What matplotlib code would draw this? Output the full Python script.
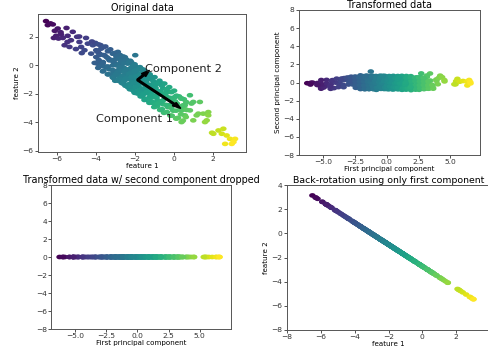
import numpy as np
import matplotlib
matplotlib.use('Agg')
import matplotlib.pyplot as plt
from matplotlib.path import Path

feature1 = [
    -6.55, -6.32, -6.20, -6.46, -5.95, -6.03, -6.15, -5.91, -5.69, -5.78,
    -5.44, -5.18, -4.96, -5.27, -5.60, -5.35, -4.84, -4.75, -4.41, -4.58,
    -4.15, -3.98, -4.24, -3.73, -3.81, -3.55, -3.98, -3.38, -3.13, -2.87,
    -2.70, -2.96, -3.30, -3.64, -3.90, -3.47, -3.13, -2.78, -2.44, -1.98,
    -2.19, -2.53, -2.87, -3.13, -2.27, -1.93, -2.36, -2.78, -1.85, -2.02,
    -2.09, -2.12, -1.83, -2.00, -1.57, -1.74, -1.32, -1.06, -0.63, -0.55,
    -0.89, -1.23, -0.21, 0.05, 0.39, 0.82, 1.33, 0.90, 0.56, 1.76,
    1.25, -0.21, -0.55,
    -0.37, -0.03, 0.99, 0.48, 0.82, 1.16, 0.99, 1.50, 1.76, 1.68,
    0.56, 0.39, 2.02, 2.28, 2.53, 2.45, 2.70, 2.87, 3.13, 2.62,
    2.96, 1.95, 1.59, 3.05,
    -4.02, -4.06, -3.93, -3.76, -3.69,
    -3.82, -3.64, -3.51, -3.44, -3.56, -3.39, -3.26, -3.19, -3.31, -3.14,
    -3.02, -3.06, -2.94, -3.01, -2.76, -2.69, -2.81, -2.68, -2.51, -2.56,
    -2.46, -2.49, -2.24, -2.31, -2.21, -2.26, -2.01, -2.06, -1.96, -2.01,
    -1.74, -1.69, -1.81, -1.71, -1.49, -1.44, -1.56, -1.51, -1.24, -1.19,
    -1.31, -1.26, -0.99, -0.94, -1.06, -1.01, -0.74, -0.69, -0.81, -0.71,
    -0.49, -0.44, -0.56, -0.51, -0.24, -0.19, -0.31, -0.18, 0.01, 0.06,
    -0.04, 0.11, 0.26, 0.31, 0.21, 0.51, 0.56, 0.46,
    -5.02, -4.72, -5.45, -5.80, -6.10, -4.85, -5.50, -4.50, -4.20,
    -3.87, -3.90, -3.85, -3.88,
    -3.62, -3.60, -3.64, -3.61, -3.37, -3.35, -3.39, -3.36,
    -3.12, -3.10, -3.14, -3.11, -2.87, -2.85, -2.89, -2.86,
    -2.62, -2.60, -2.64, -2.61, -2.37, -2.35, -2.39, -2.36,
    -2.12, -2.10, -2.14, -2.11, -1.87, -1.85, -1.89, -1.86,
    -1.62, -1.60, -1.64, -1.61, -1.37, -1.35, -1.39, -1.36,
    -1.12, -1.10, -1.14, -1.11, -0.87, -0.85, -0.89, -0.86,
    -0.62, -0.60, -0.64, -0.61, -0.37, -0.35, -0.39, -0.36,
    -0.12, -0.10, -0.14, -0.11, 0.13, 0.15, 0.11, 0.14,
    0.38, 0.40, 0.36, 0.39, 0.63, 0.65, 0.61,
    -2.95, -2.93, -2.97, -2.80, -2.78, -2.82, -2.72, -2.70, -2.68,
    -2.55, -2.53, -2.57, -2.45, -2.43, -2.47, -2.30, -2.28, -2.32,
    -2.20, -2.18, -2.22, -2.05, -2.03, -2.07, -2.04, -1.95, -1.93, -1.97,
    -1.80, -1.78, -1.82, -1.70, -1.68, -1.72, -1.55, -1.53, -1.57,
    -1.45, -1.43, -1.47, -1.30, -1.28, -1.32, -1.20, -1.18, -1.22,
    -1.05, -1.03, -1.07, -0.95, -0.93, -0.97, -0.80, -0.78, -0.82,
    -2.60, -1.60,
]
feature2 = [
    3.08, 2.92, 2.85, 2.80, 2.56, 2.05, 1.90, 1.86, 1.90, 2.14,
    2.05, 2.33, 1.98, 1.74, 1.39, 1.27, 1.62, 1.27, 1.50, 1.04,
    1.39, 1.04, 0.80, 1.15, 0.80, 0.68, 0.56, 0.97, 0.80, 0.92,
    0.56, 0.44, 0.33, 0.21, 0.09, -0.14, -0.02, 0.09, 0.21, 0.69,
    0.21, -0.26, -0.37, -0.61, -0.49, -0.14, -0.85, -0.97, -0.61, -0.97,
    0.00, -0.47, -0.82, -1.18, -1.29, -1.76, -1.76, -1.53, -1.29, -1.64,
    -2.12, -2.24, -1.88, -2.24, -2.35, -2.12, -2.59, -2.70, -2.82, -3.30,
    -3.41, -2.82, -2.47,
    -1.88, -2.35, -2.59, -2.82, -3.18, -3.53, -3.88, -3.41, -3.53, -3.88,
    -3.53, -3.18, -4.82, -4.59, -4.47, -4.82, -4.94, -5.18, -5.18, -5.53,
    -5.53, -4.75, -4.00, -5.40,
    1.55, 0.15, 0.95, 1.40, -0.05,
    0.70, -0.45, 1.30, 0.55, -0.10, -0.65, 1.10, 0.35, -0.30, -0.85,
    0.85, 0.15, -0.45, -1.10, 0.70, -0.05, -0.70, -1.25, 0.55, -0.20,
    -0.75, -1.45, 0.30, -0.45, -1.00, -1.70, 0.05, -0.65, -1.25, -1.95,
    -0.15, -0.90, -1.50, -2.20, -0.40, -1.15, -1.75, -2.45, -0.65, -1.40,
    -2.00, -2.65, -0.85, -1.60, -2.25, -2.95, -1.10, -1.85, -2.50, -3.15,
    -1.30, -2.05, -2.75, -3.35, -1.55, -2.30, -2.95, -3.55, -1.80, -2.55,
    -3.20, -3.75, -2.20, -2.95, -3.70, -2.40, -3.10, -3.90,
    1.12, 0.84, 1.62, 2.30, 2.40, 2.00, 2.60, 1.90, 1.65,
    1.45, 0.95, 0.35, -0.20,
    1.25, 0.70, 0.15, -0.40, 1.00, 0.45, -0.10, -0.65,
    0.80, 0.25, -0.35, -0.90, 0.55, 0.00, -0.50, -1.10,
    0.35, -0.20, -0.75, -1.30, 0.10, -0.45, -1.00, -1.55,
    -0.10, -0.65, -1.20, -1.75, -0.35, -0.90, -1.40, -2.00,
    -0.55, -1.10, -1.65, -2.20, -0.80, -1.35, -1.90, -2.45,
    -1.00, -1.55, -2.10, -2.65, -1.25, -1.80, -2.30, -2.90,
    -1.45, -2.00, -2.55, -3.10, -1.70, -2.25, -2.80, -3.30,
    -1.90, -2.45, -3.00, -3.55, -2.15, -2.70, -3.20, -3.75,
    -2.35, -2.90, -3.45, -4.00, -2.60, -3.15, -3.65,
    0.62, -0.02, -0.68, 0.45, -0.15, -0.95, 0.25, -0.40, -1.00,
    0.15, -0.50, -1.15, 0.40, -0.30, -0.95, 0.20, -0.60, -1.35,
    -0.20, -0.85, -1.50, -0.05, -0.45, -1.30, -1.85, -0.35, -0.80, -1.55,
    -0.30, -1.05, -1.80, -0.65, -1.25, -1.95, -0.85, -1.30, -2.05,
    -0.60, -1.55, -2.40, -1.00, -1.60, -2.35, -0.80, -1.80, -2.50,
    -1.15, -1.85, -2.60, -1.35, -2.20, -2.75, -1.30, -2.05, -2.70,
    0.60, -0.30,
]

X = np.column_stack([feature1, feature2])
mean = X.mean(axis=0)
Xc = X - mean
_, _, Vt = np.linalg.svd(Xc, full_matrices=False)
comps = Vt.copy()
if comps[0, 0] < 0:
    comps[0] *= -1
if comps[1, 1] < 0:
    comps[1] *= -1
X_pca = Xc @ comps.T
S = X_pca.std(axis=0)
X_inv = mean + np.outer(X_pca[:, 0], comps[0])

W, H = 489, 354
fig = plt.figure(figsize=(W / 100, H / 100), dpi=100)


def add_ax(l, t, r, b):
    return fig.add_axes([l / W, 1 - b / H, (r - l) / W, (b - t) / H])


th = np.linspace(0, 2 * np.pi, 41)
ell = Path(np.column_stack([np.cos(th), 0.72 * np.sin(th)]), closed=True)

TITLE = 6.9
TICK = 5.4
LAB = 5.1
MS = 22


def style(ax):
    ax.tick_params(labelsize=TICK, length=2.0, width=0.6, pad=1.2, colors='#333333')
    for sp in ax.spines.values():
        sp.set_linewidth(0.7)
        sp.set_color('#555555')


c = X_pca[:, 0]

ax0 = add_ax(38, 14, 246, 152)
ax0.scatter(X[:, 0], X[:, 1], c=c, cmap='viridis', s=MS, marker=ell, linewidths=0)
ax0.arrow(mean[0], mean[1], S[0] * comps[0, 0], S[0] * comps[0, 1],
          width=.1, head_width=.3, color='k')
ax0.arrow(mean[0], mean[1], S[1] * comps[1, 0], S[1] * comps[1, 1],
          width=.1, head_width=.3, color='k')
ax0.text(-1.5, -.5, "Component 2", size=8.2, color='#222222')
ax0.text(-4, -4, "Component 1", size=8.2, color='#222222')
ax0.set_xlim(-6.96, 3.69)
ax0.set_ylim(-6.1, 3.58)
ax0.set_xticks([-6, -4, -2, 0, 2])
ax0.set_yticks([-6, -4, -2, 0, 2])
ax0.set_title("Original data", fontsize=TITLE, pad=2)
ax0.set_xlabel("feature 1", fontsize=LAB, labelpad=0.5)
ax0.set_ylabel("feature 2", fontsize=LAB, labelpad=1.5)
style(ax0)

ax1 = add_ax(299, 10, 480, 155)
ax1.scatter(X_pca[:, 0], X_pca[:, 1], c=c, cmap='viridis', s=MS, marker=ell, linewidths=0)
ax1.set_xlim(-6.89, 7.33)
ax1.set_ylim(-8, 8)
ax1.set_xticks([-5, -2.5, 0, 2.5, 5])
ax1.set_title("Transformed data", fontsize=TITLE, pad=1)
ax1.set_xlabel("First principal component", fontsize=LAB, labelpad=0.3)
ax1.set_ylabel("Second principal component", fontsize=LAB, labelpad=1.5)
style(ax1)

ax2 = add_ax(51.5, 185, 231, 329)
ax2.scatter(X_pca[:, 0], np.zeros(X_pca.shape[0]), c=c, cmap='viridis', s=MS,
            marker=ell, linewidths=0)
ax2.set_xlim(-6.89, 7.5)
ax2.set_ylim(-8, 8)
ax2.set_xticks([-5, -2.5, 0, 2.5, 5])
ax2.set_title("Transformed data w/ second component dropped", fontsize=TITLE, pad=1.5)
ax2.set_xlabel("First principal component", fontsize=LAB, labelpad=0.5)
style(ax2)

ax3 = add_ax(287, 185, 490, 330)
ax3.scatter(X_inv[:, 0], X_inv[:, 1], c=c, cmap='viridis', s=MS, marker=ell, linewidths=0)
ax3.set_xlim(-8, 4)
ax3.set_ylim(-8, 4)
ax3.set_xticks([-8, -6, -4, -2, 0, 2, 4])
ax3.set_yticks([-8, -6, -4, -2, 0, 2, 4])
ax3.set_title("Back-rotation using only first component", fontsize=6.75, pad=1.5)
ax3.set_xlabel("feature 1", fontsize=LAB, labelpad=0.5)
ax3.set_ylabel("feature 2", fontsize=LAB, labelpad=1.5)
style(ax3)

fig.savefig("out.png", dpi=100)
